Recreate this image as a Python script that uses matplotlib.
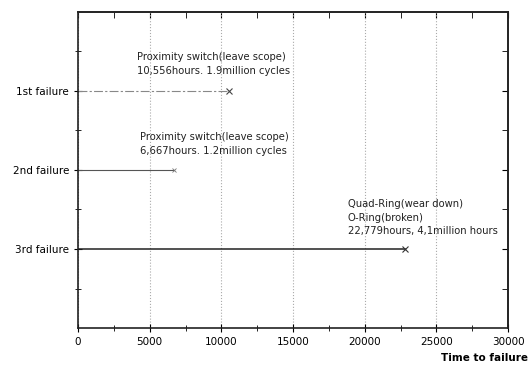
import matplotlib.pyplot as plt

labels = ['1st failure', '2nd failure', '3rd failure']
ypos = [6, 4, 2]
hours = [10556, 6687, 22779]
notes = ['Proximity switch(leave scope)\n10,556hours. 1.9million cycles',
         'Proximity switch(leave scope)\n6,667hours. 1.2million cycles',
         'Quad-Ring(wear down)\nO-Ring(broken)\n22,779hours, 4,1million hours']
note_x = [4100, 4300, 18800]
note_y = [6.98, 4.96, 3.26]

fig = plt.figure(figsize=(5.31, 3.69), dpi=100)
ax = fig.add_axes([0.147, 0.111, 0.810, 0.857])

# failure lines
ax.plot([0, hours[0]], [ypos[0], ypos[0]], color='#888888', lw=0.8, ls=(0, (8, 2, 2, 2)))
ax.plot(hours[0], ypos[0], marker='x', color='#444444', ms=5, mew=0.8)
ax.plot([0, hours[1]], [ypos[1], ypos[1]], color='#555555', lw=0.8)
ax.plot(hours[1], ypos[1], marker='x', color='#777777', ms=3, mew=0.6)
ax.plot([0, hours[2]], [ypos[2], ypos[2]], color='#222222', lw=1.1)
ax.plot(hours[2], ypos[2], marker='x', color='#333333', ms=5, mew=0.8)

for x, y, s in zip(note_x, note_y, notes):
    ax.text(x, y, s, fontsize=7.2, color='#222222', va='top', ha='left',
            linespacing=1.45)

ax.set_xlim(0, 30000)
ax.set_ylim(0, 8)
xmaj = list(range(0, 30001, 5000))
xmin = list(range(2500, 30000, 5000))
ax.set_xticks(xmaj)
ax.set_xticks(xmin, minor=True)
ax.set_yticks(ypos)
ax.set_yticklabels(labels)
ax.set_yticks([1, 3, 5, 7], minor=True)
ax.grid(axis='x', which='major', color='#aaaaaa', ls=':', lw=0.8)

ax.tick_params(axis='both', which='both', labelsize=7.5, direction='inout', length=6)
ax.tick_params(axis='both', which='minor', length=4)

# inward ticks on top and right
top = ax.secondary_xaxis('top')
top.set_xticks(xmaj)
top.set_xticks(xmin, minor=True)
top.tick_params(which='both', direction='in', length=4, labeltop=False)
right = ax.secondary_yaxis('right')
right.set_yticks(ypos)
right.set_yticks([1, 3, 5, 7], minor=True)
right.tick_params(which='both', direction='in', length=4, labelright=False)

for a in (ax, top, right):
    for s in a.spines.values():
        s.set_linewidth(1.2)
        s.set_color('#222222')

fig.text(0.995, 0.015, 'Time to failure', ha='right', va='bottom',
         fontsize=7.5, fontweight='bold')

fig.savefig('out.png', dpi=100)
